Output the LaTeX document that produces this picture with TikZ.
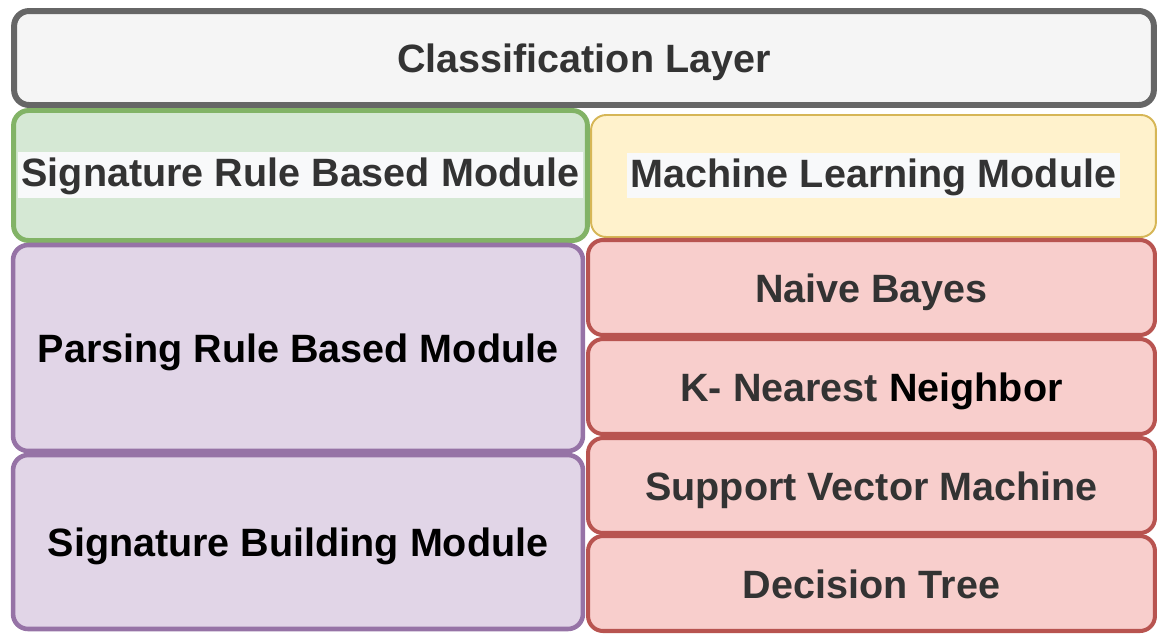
\documentclass[tikz,border=0pt]{standalone}
\usepackage{fontspec}
\setmainfont{Liberation Sans}
\usepackage{tikz}
\usetikzlibrary{positioning}

\definecolor{grayfill}{HTML}{F5F5F5}
\definecolor{graydraw}{HTML}{666666}
\definecolor{greenfill}{HTML}{D5E8D4}
\definecolor{greendraw}{HTML}{82B366}
\definecolor{yellowfill}{HTML}{FFF2CC}
\definecolor{yellowdraw}{HTML}{D6B656}
\definecolor{redfill}{HTML}{F8CECC}
\definecolor{reddraw}{HTML}{B85450}
\definecolor{purplefill}{HTML}{E1D5E7}
\definecolor{purpledraw}{HTML}{9673A6}
\definecolor{labeltext}{HTML}{333333}
\definecolor{labelhl}{HTML}{F8F9FA}

\newcommand{\hltext}[1]{{\setlength{\fboxsep}{0pt}%
    \colorbox{labelhl}{\hspace{2pt}\rule[-6.2pt]{0pt}{25.9pt}#1\hspace{2pt}}}}

\begin{document}
\begin{tikzpicture}[x=0.02cm,y=-0.02cm,
    box/.style={rectangle,rounded corners=0.3cm,inner sep=0pt,
        font=\fontsize{22.5}{27}\selectfont\bfseries,text=labeltext,
        text height=17pt,text depth=0pt},
    layerbox/.style={box,draw=graydraw,fill=grayfill,line width=3.4pt},
    rulebox/.style={box,draw=greendraw,fill=greenfill,line width=2.8pt,
        text height=13pt},
    mlbox/.style={box,draw=yellowdraw,fill=yellowfill,line width=1.1pt,
        text height=13pt},
    algobox/.style={box,draw=reddraw,fill=redfill,line width=2.3pt,
        minimum width=11.34cm,minimum height=1.9cm},
    parsebox/.style={box,draw=purpledraw,fill=purplefill,line width=2.6pt,
        minimum width=11.4cm,text=black}
]

\useasboundingbox (0,0) rectangle (1157,633);

% top layer
\node[layerbox,minimum width=22.8cm,minimum height=1.88cm] (layer) at (584,58)
    {Classification Layer};

% modules
\node[rulebox,minimum width=11.48cm,minimum height=2.6cm] (sigrule) at (300.5,175.5)
    {\hltext{Signature Rule Based Module}};
\node[mlbox,minimum width=11.3cm,minimum height=2.44cm] (mlmod) at (873.5,176)
    {\hltext{Machine Learning Module}};

\node[parsebox,minimum height=4.12cm] (parse) at (298,348)
    {Parsing Rule Based Module};
\node[parsebox,minimum height=3.48cm] (sigbuild) at (298,542)
    {Signature Building Module};

% classifiers
\node[algobox] (nb) at (871.5,287.5) {Naive Bayes};
\node[algobox] (knn) at (871.5,386.5) {K- Nearest \textcolor{black}{Neighbor}};
\node[algobox] (svm) at (871.5,485.5) {Support Vector Machine};
\node[algobox] (dt) at (871.5,583.5) {Decision Tree};

\end{tikzpicture}
\end{document}
